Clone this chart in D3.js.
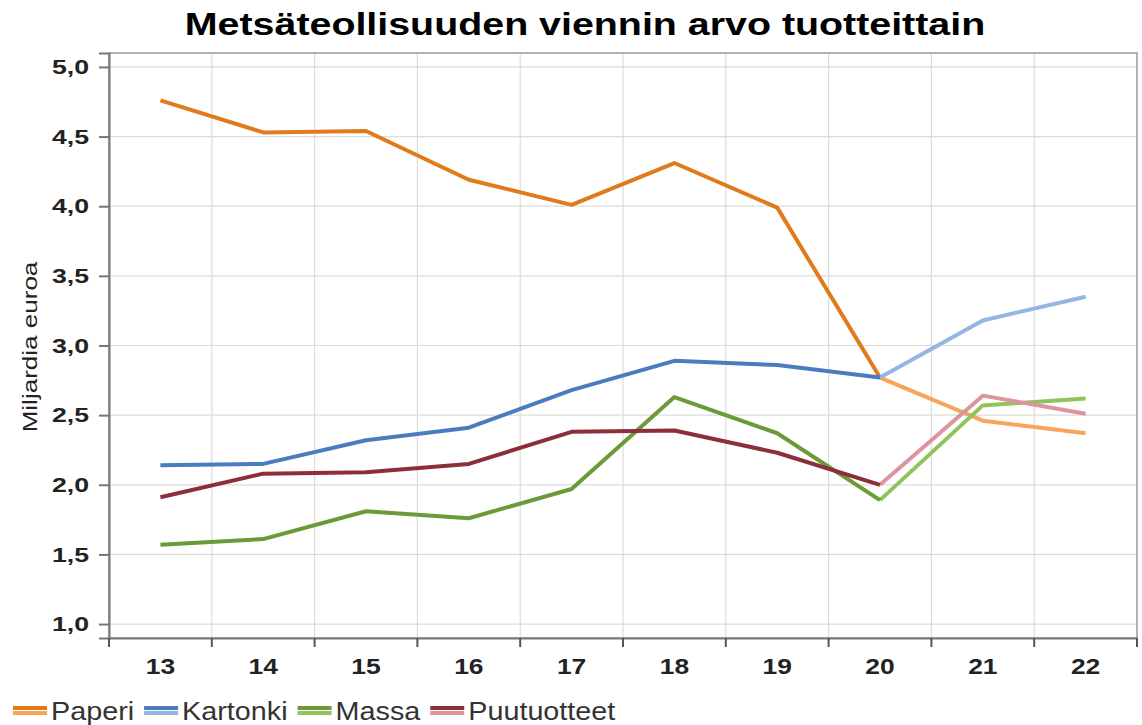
<!DOCTYPE html>
<meta charset="utf-8">
<script src="https://d3js.org/d3.v7.min.js"></script>
<style>
  body { margin: 0; background: #fff; }
  text { font-family: "Liberation Sans", Arial, sans-serif; }
</style>
<div id="chart"></div>
<script>
// data, billions of euros
const years = ["13", "14", "15", "16", "17", "18", "19", "20", "21", "22"];
const paperi = [4.76, 4.53, 4.54, 4.19, 4.01, 4.31, 3.99, 2.77, 2.46, 2.37];
const kartonki = [2.14, 2.15, 2.32, 2.41, 2.68, 2.89, 2.86, 2.77, 3.18, 3.35];
const massa = [1.57, 1.61, 1.81, 1.76, 1.97, 2.63, 2.37, 1.89, 2.57, 2.62];
const puutuotteet = [1.91, 2.08, 2.09, 2.15, 2.38, 2.39, 2.23, 2.00, 2.64, 2.51];
const yTicks = [1.0, 1.5, 2.0, 2.5, 3.0, 3.5, 4.0, 4.5, 5.0];
const forecastFrom = "20";

const series = [
  {name: "Paperi", values: paperi, color: "#e07a1c", light: "#f6a65a"},
  {name: "Kartonki", values: kartonki, color: "#4a7cc0", light: "#93b6e4"},
  {name: "Massa", values: massa, color: "#6b9a37", light: "#8fc45a"},
  {name: "Puutuotteet", values: puutuotteet, color: "#8c2f3b", light: "#dc959f"}
];

const W = 1142, H = 725;
const margin = {top: 53, right: 5, bottom: 87, left: 109};
const width = W - margin.left - margin.right,
      height = H - margin.top - margin.bottom;

const svg = d3.select("#chart").append("svg")
  .attr("width", W).attr("height", H);

// the source picture has its text stretched sideways
svg.append("text")
  .attr("transform", "translate(585,35) scale(1.27,1)")
  .attr("text-anchor", "middle")
  .style("font-size", "31px").style("font-weight", "bold")
  .text("Metsäteollisuuden viennin arvo tuotteittain");

const g = svg.append("g")
  .attr("transform", `translate(${margin.left},${margin.top})`);

const x = d3.scaleBand().domain(years).range([0, width]);
const y = d3.scaleLinear().domain([0.9, 5.1]).range([height, 0]);

// grid
g.append("g").selectAll("line.h").data(yTicks).join("line")
  .attr("x1", 0).attr("x2", width)
  .attr("y1", d => y(d)).attr("y2", d => y(d))
  .attr("stroke", "#dcdcdc").attr("stroke-width", 1.2);
g.append("g").selectAll("line.v").data(years.slice(1)).join("line")
  .attr("x1", d => x(d)).attr("x2", d => x(d))
  .attr("y1", 0).attr("y2", height)
  .attr("stroke", "#dcdcdc").attr("stroke-width", 1.2);

// frame
g.append("rect")
  .attr("width", width).attr("height", height)
  .attr("fill", "none").attr("stroke", "#9a9a9a").attr("stroke-width", 1.5);

// y axis
const yAxis = g.append("g")
  .call(d3.axisLeft(y).tickValues(yTicks).tickSize(10)
    .tickFormat(d => d3.format(".1f")(d).replace(".", ",")));
yAxis.select(".domain").attr("stroke", "#777").attr("stroke-width", 2);
yAxis.selectAll(".tick line").attr("stroke", "#777").attr("stroke-width", 2);
yAxis.selectAll("text")
  .attr("x", 0).attr("transform", "translate(-20,0) scale(1.27,1)")
  .style("font-size", "21px").style("font-weight", "bold")
  .attr("fill", "#222").attr("font-family", null);

// x axis
const xAxis = g.append("g")
  .attr("transform", `translate(0,${height})`)
  .call(d3.axisBottom(x).tickSize(0).tickPadding(20));
xAxis.select(".domain").attr("stroke", "#777").attr("stroke-width", 2);
xAxis.selectAll("text")
  .attr("transform", "scale(1.2,1)")
  .style("font-size", "22px").style("font-weight", "bold")
  .attr("fill", "#222").attr("font-family", null);
g.append("g").selectAll("line").data(years.concat(["end"])).join("line")
  .attr("x1", d => d === "end" ? width : x(d))
  .attr("x2", d => d === "end" ? width : x(d))
  .attr("y1", height).attr("y2", height + 9)
  .attr("stroke", "#555").attr("stroke-width", 2);

// y title
svg.append("text")
  .attr("transform", "translate(37,347) rotate(-90) scale(1.24,1)")
  .attr("text-anchor", "middle")
  .style("font-size", "21px").attr("fill", "#222")
  .text("Miljardia euroa");

// lines
const line = d3.line()
  .x(d => x(d.year) + x.bandwidth() / 2)
  .y(d => y(d.v));
const fi = years.indexOf(forecastFrom);
series.forEach(s => {
  const pts = years.map((yr, i) => ({year: yr, v: s.values[i]}));
  g.append("path").datum(pts.slice(fi))
    .attr("fill", "none").attr("stroke", s.light).attr("stroke-width", 4)
    .attr("stroke-linejoin", "round").attr("d", line);
  g.append("path").datum(pts.slice(0, fi + 1))
    .attr("fill", "none").attr("stroke", s.color).attr("stroke-width", 4)
    .attr("stroke-linejoin", "round").attr("d", line);
});

// legend, laid out left to right
const legScale = 1.15;
let lx = 13;
series.forEach(s => {
  const item = svg.append("g").attr("transform", `translate(${lx},712)`);
  item.append("line").attr("x1", 0).attr("x2", 34).attr("y1", -4).attr("y2", -4)
    .attr("stroke", s.color).attr("stroke-width", 4);
  item.append("line").attr("x1", 0).attr("x2", 34).attr("y1", 1).attr("y2", 1)
    .attr("stroke", s.light).attr("stroke-width", 4);
  const t = item.append("text")
    .attr("transform", `translate(38,8) scale(${legScale},1)`)
    .style("font-size", "25px").attr("fill", "#333")
    .text(s.name);
  lx += 38 + t.node().getComputedTextLength() * legScale + 10;
});
</script>
